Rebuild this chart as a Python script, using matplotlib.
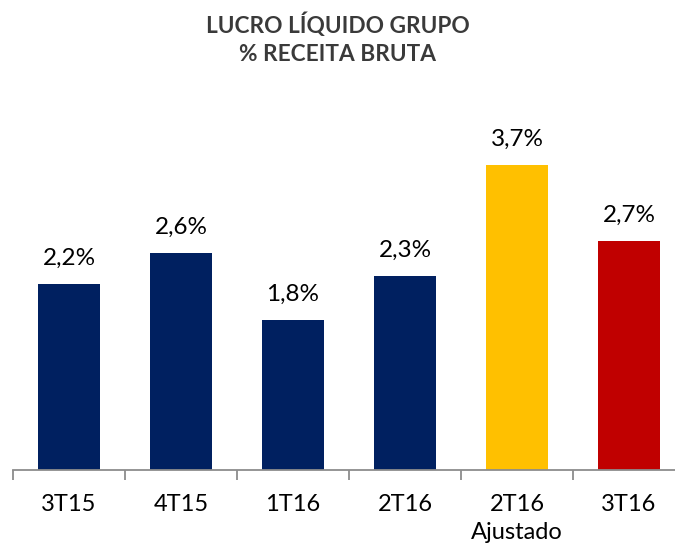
import matplotlib
matplotlib.use("Agg")
import matplotlib.pyplot as plt
import numpy as np

categories = ["3T15", "4T15", "1T16", "2T16", "2T16\nAjustado", "3T16"]
values = [2.26, 2.63, 1.82, 2.35, 3.70, 2.78]
labels = ["2,2%", "2,6%", "1,8%", "2,3%", "3,7%", "2,7%"]
colors = ["#002060", "#002060", "#002060", "#002060", "#FFC000", "#C00000"]

plt.rcParams['font.family'] = ['Lato', 'DejaVu Sans']

fig = plt.figure(figsize=(6.75, 5.52), dpi=100)
ax = fig.add_axes([13/675, 82/552, 672/675, 370/552])
x = np.arange(len(categories))
ax.bar(x, values, width=0.555, color=colors)
ax.set_xlim(-0.5, 5.5)
ax.set_ylim(0, 4.49)
for xi, v, lab in zip(x, values, labels):
    ax.annotate(lab, (xi, v), xytext=(0, 11), textcoords="offset points",
                ha="center", va="bottom", fontsize=17.5, color="#000000")
for s in ["top", "right", "left"]:
    ax.spines[s].set_visible(False)
ax.spines["bottom"].set_color("#8c8c8c")
ax.spines["bottom"].set_linewidth(1.3)
ax.set_yticks([])
ax.set_xticks(x)
ax.set_xticklabels(categories, fontsize=17, linespacing=1.45, va="top")
ax.tick_params(axis="x", which="major", length=0, pad=17)
ax.set_xticks(np.arange(-0.5, 6.0, 1.0), minor=True)
ax.tick_params(axis="x", which="minor", length=7, width=1.3, color="#8c8c8c")
fig.text(0.5, 1 - 12/552, "LUCRO LÍQUIDO GRUPO\n% RECEITA BRUTA", ha="center", va="top",
         fontsize=16.3, fontweight="bold", color="#3a3a3a", linespacing=1.45)
fig.savefig("out.png", dpi=100)
